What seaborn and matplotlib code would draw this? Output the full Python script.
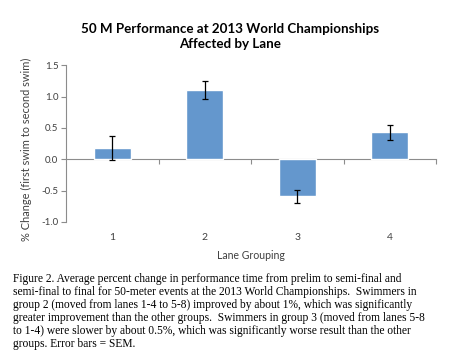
import numpy as np
import pandas as pd
import matplotlib
matplotlib.use("Agg")
import matplotlib.pyplot as plt
import seaborn as sns

# ---------------------------------------------------------------------------
# Data
# ---------------------------------------------------------------------------
lane_groups = ["1", "2", "3", "4"]
pct_change = [0.18, 1.11, -0.59, 0.43]
sem = [0.19, 0.145, 0.105, 0.12]

title_text = "50 M Performance at 2013 World Championships\nAffected by Lane"
caption_lines = [
    "Figure 2. Average percent change in performance time from prelim to semi-final and",
    "semi-final to final for 50-meter events at the 2013 World Championships.  Swimmers in",
    "group 2 (moved from lanes 1-4 to 5-8) improved by about 1%, which was significantly",
    "greater improvement than the other groups.  Swimmers in group 3 (moved from lanes 5-8",
    "to 1-4) were slower by about 0.5%, which was significantly worse result than the other",
    "groups. Error bars = SEM.",
]

BAR_COLOR = "#6497cd"
AXIS_GRAY = "#8c8c8c"
TEXT_GRAY = "#404040"
YLIM = (-1.0, 1.5)

sns.set_theme(style="white")
plt.rcParams["font.family"] = ["Lato", "DejaVu Sans"]

df = pd.DataFrame({"lane": lane_groups, "change": pct_change, "sem": sem})

fig = plt.figure(figsize=(4.65, 3.62), dpi=100)
ax = fig.add_axes([0.142, 0.387, 0.796, 0.433])

sns.barplot(data=df, x="lane", y="change", color=BAR_COLOR, width=0.4,
            saturation=1, errorbar=None, ax=ax)
ax.errorbar(np.arange(len(df)), df["change"], yerr=df["sem"], fmt="none",
            ecolor="black", elinewidth=0.9, capsize=2.5, capthick=0.9)

ax.set_ylim(*YLIM)
ax.set_xlim(-0.5, len(df) - 0.5)
ax.set_yticks(np.arange(-1.0, 1.51, 0.5))
ax.set_yticklabels([f"{v:.1f}" for v in np.arange(-1.0, 1.51, 0.5)])

# spines: only left axis, plus a horizontal axis line crossing at zero
for side in ("top", "right", "bottom"):
    ax.spines[side].set_visible(False)
ax.spines["left"].set_color(AXIS_GRAY)
ax.spines["left"].set_linewidth(0.8)
ax.tick_params(axis="y", length=3.5, width=0.8, color=AXIS_GRAY,
               labelsize=7, labelcolor=TEXT_GRAY, pad=2, left=True)
ax.tick_params(axis="x", length=0, labelsize=7.5, labelcolor=TEXT_GRAY, pad=8)

zero_frac = (0 - YLIM[0]) / (YLIM[1] - YLIM[0])
zero_axis = ax.secondary_xaxis(zero_frac)
zero_axis.spines["bottom"].set_color(AXIS_GRAY)
zero_axis.spines["bottom"].set_linewidth(0.8)
zero_axis.set_xticks(np.arange(0.5, len(df), 1.0))
zero_axis.set_xticklabels([])
zero_axis.tick_params(axis="x", length=3.5, width=0.8, color=AXIS_GRAY)

ax.set_xlabel("Lane Grouping", fontsize=7.6, color=TEXT_GRAY, labelpad=6)
ax.set_ylabel("% Change (first swim to second swim)", fontsize=7.9,
              color=TEXT_GRAY)
ax.yaxis.set_label_coords(-0.092, 0.46)

fig.text(0.494, 0.9, title_text, ha="center", va="center",
         fontsize=9.6, fontweight="bold", color="black", linespacing=1.3)

fig.text(0.028, 0.246, "\n".join(caption_lines), ha="left", va="top",
         fontsize=8.3, family=["Liberation Serif", "DejaVu Serif"],
         color="black", linespacing=1.12)

fig.savefig("out.png", dpi=100)
